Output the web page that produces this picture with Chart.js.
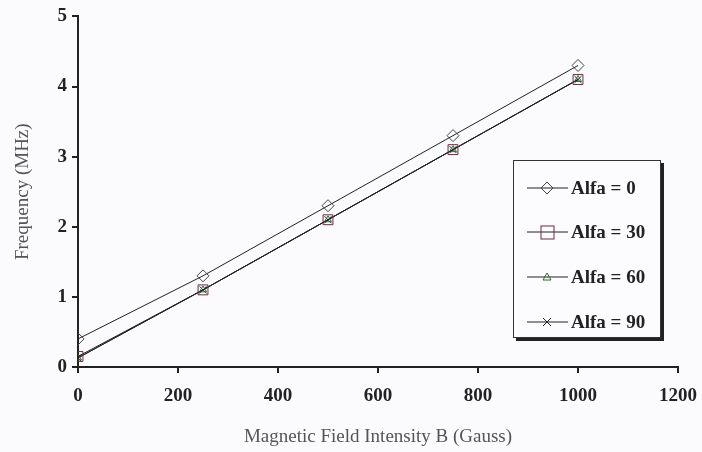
<!DOCTYPE html>
<html><head><meta charset="utf-8">
<script src="https://cdn.jsdelivr.net/npm/chart.js@4/dist/chart.umd.min.js"></script>
<style>
html,body{margin:0;padding:0;background:#fbfafc;}
#wrap{position:relative;width:702px;height:452px;}
#legend{position:absolute;left:513px;top:160px;width:148px;height:178px;border:1px solid #333;background:#fcfbfd;box-shadow:3px 3px 0 #222;font-family:"Liberation Serif",serif;font-weight:bold;font-size:19px;color:#222;box-sizing:border-box;}
.row{position:absolute;left:13px;height:20px;display:flex;align-items:center;white-space:nowrap;}
.row svg{margin-right:3px;}
</style></head>
<body><div id="wrap"><canvas id="c" width="702" height="452"></canvas><div id="legend"></div></div>
<script>
const fieldB = [0, 250, 500, 750, 1000];
const alfa0 = [0.4, 1.3, 2.3, 3.3, 4.3];
const alfa30 = [0.15, 1.1, 2.1, 3.1, 4.1];
const alfa60 = [0.13, 1.1, 2.1, 3.1, 4.1];
const alfa90 = [0.13, 1.1, 2.1, 3.1, 4.1];
const seriesNames = ["Alfa = 0", "Alfa = 30", "Alfa = 60", "Alfa = 90"];
const xTicks = [0, 200, 400, 600, 800, 1000, 1200];
const yTicks = [0, 1, 2, 3, 4, 5];

const styles = [
  {color:'#444', lineColor:'#222', pointStyle:'rectRot', r:6},
  {color:'#6e2a45', lineColor:'#222', pointStyle:'rect', r:7},
  {color:'#2f6b2f', lineColor:'#222', pointStyle:'triangle', r:4},
  {color:'#222', lineColor:'#222', pointStyle:'crossRot', r:5}
];
const allSeries = [alfa0, alfa30, alfa60, alfa90];
const datasets = allSeries.map((s,i)=>({
  label: seriesNames[i],
  data: fieldB.map((x,j)=>({x:x,y:s[j]})),
  showLine:true,
  borderColor: styles[i].lineColor,
  borderWidth:1,
  pointStyle: styles[i].pointStyle,
  pointRadius: styles[i].r,
  pointBorderColor: styles[i].color,
  pointBackgroundColor:'rgba(0,0,0,0)',
  pointBorderWidth:1
}));

const tickFont = {family:'"Liberation Serif", serif', size:19, weight:'bold'};
const titleFont = {family:'"Liberation Serif", serif', size:19};

new Chart(document.getElementById('c'), {
  type:'scatter',
  data:{datasets:datasets},
  options:{
    responsive:false, animation:false,
    layout:{padding:{top:15,right:0,left:8,bottom:0}},
    plugins:{legend:{display:false}, tooltip:{enabled:false}},
    scales:{
      x:{
        type:'linear', min:0, max:1200,
        afterBuildTicks:(s)=>{s.ticks = xTicks.map(v=>({value:v}));},
        afterFit:(s)=>{s.height = 85; s.paddingRight = 24; s.paddingLeft = 0;},
        grid:{display:true, drawOnChartArea:false, drawTicks:true, tickLength:6, color:'#222', lineWidth:2},
        border:{display:true, color:'#222', width:2},
        ticks:{font:tickFont, color:'#222', padding:12, maxRotation:0, callback:(v)=>String(v)},
        title:{display:true, text:'Magnetic Field Intensity B (Gauss)', font:titleFont, color:'#555', padding:{top:2}}
      },
      y:{
        type:'linear', min:0, max:5,
        afterBuildTicks:(s)=>{s.ticks = yTicks.map(v=>({value:v}));},
        afterFit:(s)=>{s.width = 70;},
        grid:{display:true, drawOnChartArea:false, drawTicks:true, tickLength:6, color:'#222', lineWidth:2},
        border:{display:true, color:'#222', width:2},
        ticks:{font:tickFont, color:'#222', padding:5, callback:(v)=>String(v)},
        title:{display:true, text:'Frequency (MHz)', font:titleFont, color:'#555', padding:{bottom:6}}
      }
    }
  }
});

// HTML legend
const leg = document.getElementById('legend');
const rowsTop = [17, 61, 106, 151];
function markerSvg(i){
  const st = styles[i], c = st.color;
  let m = '';
  if(st.pointStyle==='rectRot') m = `<polygon points="20,4 26,10 20,16 14,10" fill="none" stroke="${c}" stroke-width="1"/>`;
  if(st.pointStyle==='rect') m = `<rect x="14" y="4" width="13" height="13" fill="none" stroke="${c}" stroke-width="1"/>`;
  if(st.pointStyle==='triangle') m = `<polygon points="20,6 24,13 16,13" fill="none" stroke="${c}" stroke-width="1"/>`;
  if(st.pointStyle==='crossRot') m = `<path d="M16,6 L24,14 M24,6 L16,14" stroke="${c}" stroke-width="1"/>`;
  return `<svg width="41" height="20"><line x1="0" y1="10" x2="41" y2="10" stroke="${st.lineColor}" stroke-width="1"/>${m}</svg>`;
}
seriesNames.forEach((n,i)=>{
  const d = document.createElement('div');
  d.className='row'; d.style.top = rowsTop[i]+'px';
  d.innerHTML = markerSvg(i) + '<span>'+n+'</span>';
  leg.appendChild(d);
});
</script>
</body></html>
